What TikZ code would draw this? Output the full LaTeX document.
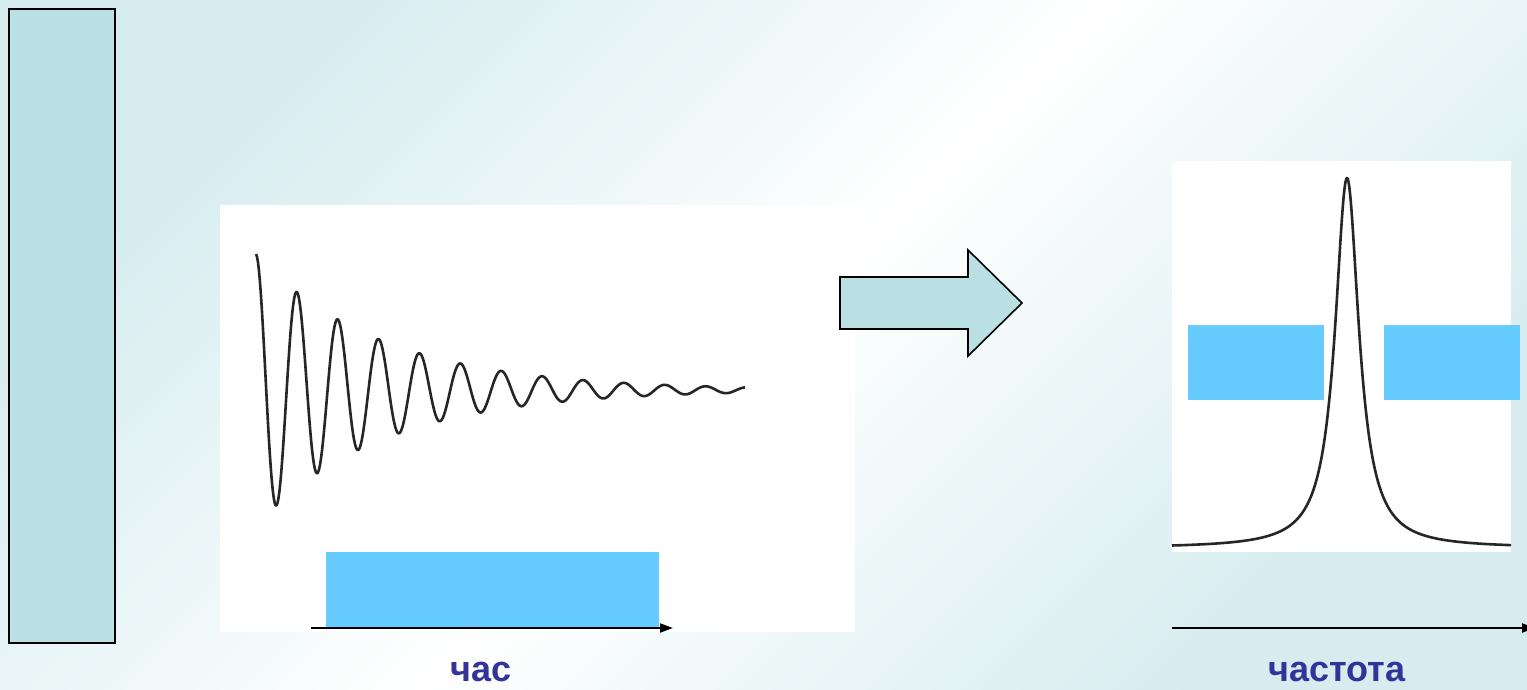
\documentclass[tikz,border=0pt]{standalone}
\usepackage{fontspec}
\setmainfont{Liberation Sans}
\usetikzlibrary{arrows.meta}
\definecolor{bgc}{HTML}{D6ECEF}
\definecolor{boxc}{HTML}{BAE0E3}
\definecolor{bluec}{HTML}{66CCFF}
\definecolor{labc}{HTML}{333399}
\begin{document}
\begin{tikzpicture}[x=1pt,y=-1pt,
  panel/.style={fill=white,draw=none},
  bluebox/.style={fill=bluec,draw=none},
  axisline/.style={line width=2pt,-{Triangle[length=13pt,width=9pt]}},
  curve/.style={line width=2.6pt,black!85,line join=round},
  lab/.style={text=labc,font=\fontsize{36}{40}\selectfont\bfseries,anchor=base,inner sep=0pt}]
\useasboundingbox (0,0) rectangle (1527,689);
\fill[top color=bgc,bottom color=bgc,middle color=white,shading angle=45] (0,0) rectangle (1527,689);
% left tall box
\node[draw=black,line width=2pt,fill=boxc,minimum width=106pt,minimum height=634pt,inner sep=0pt,anchor=north west] (tall) at (8,8) {};
% time panel
\node[panel,minimum width=635pt,minimum height=427pt,inner sep=0pt,anchor=north west] (tpanel) at (220,205) {};
\node[bluebox,minimum width=333pt,minimum height=76pt,inner sep=0pt,anchor=north west] (tblue) at (326,552) {};
\draw[curve] plot[domain=0:489,samples=500] ({256+\x},{390-136*exp(-0.008*\x)*cos(8.8020*\x)});
\coordinate (ta) at (311,628);
\coordinate (tb) at (673,628);
\draw[axisline] (ta) -- (tb);
\node[lab] (tlab) at (481,681) {час};
% block arrow
\draw[fill=boxc,line width=1.6pt,line join=miter]
  (840,277) -- (968,277) -- (968,250) -- (1022,303) -- (968,356) -- (968,329) -- (840,329) -- cycle;
% frequency panel
\node[panel,minimum width=339pt,minimum height=391pt,inner sep=0pt,anchor=north west] (fpanel) at (1172,161) {};
\draw[curve] plot[domain=-175:164,samples=700] ({1347+\x},{548-370/(1+(\x/14.5)^2)});
\node[bluebox,minimum width=136pt,minimum height=75pt,inner sep=0pt,anchor=north west] (fblue1) at (1188,325) {};
\node[bluebox,minimum width=136pt,minimum height=75pt,inner sep=0pt,anchor=north west] (fblue2) at (1384,325) {};
\coordinate (fa) at (1172,628);
\coordinate (fb) at (1535,628);
\draw[axisline] (fa) -- (fb);
\node[lab] (flab) at (1337,681) {частота};
\end{tikzpicture}
\end{document}
